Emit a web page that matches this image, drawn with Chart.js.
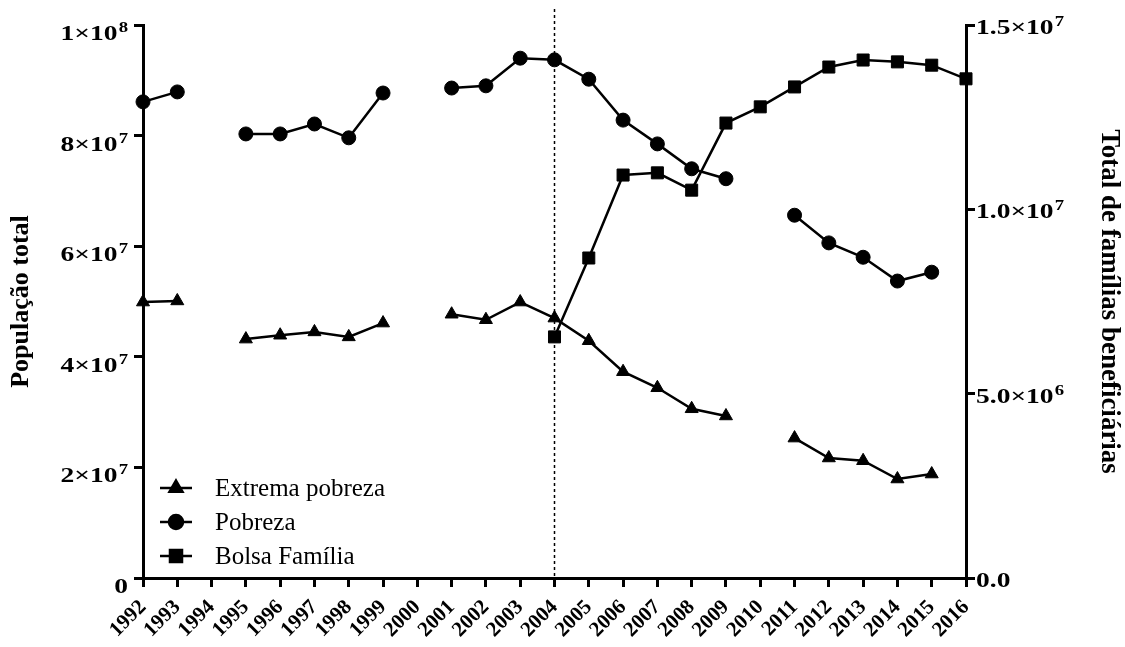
<!DOCTYPE html>
<html>
<head>
<meta charset="utf-8">
<script src="https://cdn.jsdelivr.net/npm/chart.js@4"></script>
<style>
  html, body { margin: 0; padding: 0; background: #fff; }
  #wrap { width: 1125px; height: 647px; }
</style>
</head>
<body>
<div id="wrap"><canvas id="chart" width="1125" height="647"></canvas></div>
<script>
const years = ['1992', '1993', '1994', '1995', '1996', '1997', '1998', '1999', '2000', '2001', '2002', '2003',
    '2004', '2005', '2006', '2007', '2008', '2009', '2010', '2011', '2012', '2013', '2014', '2015', '2016'];

const extremaPobreza = [4.99e7, 5.01e7, null, 4.32e7, 4.39e7, 4.45e7, 4.36e7, 4.61e7, null, 4.77e7, 4.67e7, 4.99e7,
    4.70e7, 4.29e7, 3.73e7, 3.44e7, 3.06e7, 2.93e7, null, 2.53e7, 2.17e7, 2.12e7, 1.79e7, 1.88e7, null];

const pobreza = [8.61e7, 8.79e7, null, 8.03e7, 8.03e7, 8.21e7, 7.96e7, 8.77e7, null, 8.86e7, 8.90e7, 9.40e7,
    9.37e7, 9.02e7, 8.28e7, 7.85e7, 7.40e7, 7.22e7, null, 6.56e7, 6.06e7, 5.80e7, 5.37e7, 5.53e7, null];

const bolsaFamilia = [null, null, null, null, null, null, null, null, null, null, null, null,
    6.54e6, 8.68e6, 1.093e7, 1.099e7, 1.052e7, 1.234e7, 1.278e7, 1.332e7, 1.386e7, 1.405e7, 1.400e7, 1.391e7, 1.354e7];

const leftTickLabels = ['0', '2×10⁷', '4×10⁷', '6×10⁷', '8×10⁷', '1×10⁸'];
const rightTickLabels = ['0.0', '5.0×10⁶', '1.0×10⁷', '1.5×10⁷'];
const markYear = '2004';

const serif = '"Liberation Serif", "DejaVu Serif", serif';
const SUP = '⁰¹²³⁴⁵⁶⁷⁸⁹';

// vertical dashed line at the start of Bolsa Familia
const markerLine = {
    id: 'markerLine',
    beforeDatasetsDraw(chart) {
        const { ctx, chartArea, scales } = chart;
        const x = scales.x.getPixelForValue(years.indexOf(markYear));
        ctx.save();
        ctx.strokeStyle = '#000';
        ctx.lineWidth = 1.5;
        ctx.setLineDash([3, 3]);
        ctx.beginPath();
        ctx.moveTo(x, chartArea.top - 16);
        ctx.lineTo(x, chartArea.bottom);
        ctx.stroke();
        ctx.restore();
    }
};

// draw "a×10^b" tick labels with a real-size exponent
function drawSci(ctx, text, x, y, alignRight) {
    const m = text.match(/^(.*?)([⁰¹²³⁴⁵⁶⁷⁸⁹]*)$/);
    const base = m[1];
    const exp = m[2].split('').map(c => SUP.indexOf(c)).join('');
    const sx = 1.25;
    ctx.font = 'bold 22px ' + serif;
    const wb = ctx.measureText(base).width;
    ctx.font = 'bold 15px ' + serif;
    const we = exp ? ctx.measureText(exp).width + 1 : 0;
    const total = (wb + we) * sx;
    ctx.save();
    ctx.translate(alignRight ? x - total : x, y);
    ctx.scale(sx, 1);
    ctx.font = 'bold 22px ' + serif;
    ctx.fillText(base, 0, 0);
    if (exp) {
        ctx.font = 'bold 15px ' + serif;
        ctx.fillText(exp, wb + 1, -8);
    }
    ctx.restore();
}

const sciTicks = {
    id: 'sciTicks',
    afterDraw(chart) {
        const { ctx, scales } = chart;
        ctx.save();
        ctx.fillStyle = '#000';
        ctx.textBaseline = 'alphabetic';
        ctx.textAlign = 'left';
        scales.y.ticks.forEach((t, i) => {
            drawSci(ctx, leftTickLabels[i], scales.y.right - 15, scales.y.getPixelForValue(t.value) + 15, true);
        });
        scales.y1.ticks.forEach((t, i) => {
            drawSci(ctx, rightTickLabels[i], scales.y1.left + 10, scales.y1.getPixelForValue(t.value) + 9, false);
        });
        ctx.restore();
    }
};

// legend inside the plot, bottom left
const innerLegend = {
    id: 'innerLegend',
    afterDatasetsDraw(chart) {
        const { ctx } = chart;
        const x0 = 160, rowY = [488, 522, 556];
        ctx.save();
        chart.data.datasets.forEach((ds, i) => {
            const y = rowY[i];
            ctx.strokeStyle = '#000';
            ctx.lineWidth = 2.5;
            ctx.beginPath();
            ctx.moveTo(x0, y);
            ctx.lineTo(x0 + 32, y);
            ctx.stroke();
            Chart.helpers.drawPoint(ctx, {
                pointStyle: ds.pointStyle, radius: ds.pointRadius, borderWidth: 1
            }, x0 + 16, y);
            ctx.fillStyle = '#000';
            ctx.font = '25px ' + serif;
            ctx.textBaseline = 'middle';
            ctx.textAlign = 'left';
            ctx.fillText(ds.label, x0 + 55, y + 1);
        });
        ctx.restore();
    }
};

const tickGrid = {
    drawOnChartArea: false,
    drawTicks: true,
    tickLength: 9,
    tickWidth: 3,
    tickColor: '#000',
    color: '#000',
    lineWidth: 3
};

new Chart(document.getElementById('chart'), {
    type: 'line',
    data: {
        labels: years,
        datasets: [{
            label: 'Extrema pobreza',
            data: extremaPobreza,
            yAxisID: 'y',
            pointStyle: 'triangle',
            pointRadius: 7.5
        }, {
            label: 'Pobreza',
            data: pobreza,
            yAxisID: 'y',
            pointStyle: 'circle',
            pointRadius: 7
        }, {
            label: 'Bolsa Família',
            data: bolsaFamilia,
            yAxisID: 'y1',
            pointStyle: 'rect',
            pointRadius: 8.5
        }].map(d => Object.assign(d, {
            borderColor: '#000',
            backgroundColor: '#000',
            pointBackgroundColor: '#000',
            pointBorderColor: '#000',
            borderWidth: 2.5,
            pointBorderWidth: 1,
            spanGaps: false,
            tension: 0,
            clip: false
        }))
    },
    options: {
        responsive: false,
        animation: false,
        layout: { padding: { top: 25, left: 0, right: 0, bottom: 0 } },
        plugins: {
            legend: { display: false },
            tooltip: { enabled: false }
        },
        scales: {
            x: {
                offset: false,
                grid: tickGrid,
                border: { display: true, color: '#000', width: 3 },
                ticks: {
                    color: '#000',
                    font: { family: serif, size: 21, weight: 'bold' },
                    minRotation: 45,
                    maxRotation: 45,
                    autoSkip: false,
                    padding: 8
                },
                afterFit(scale) { scale.height = 69; }
            },
            y: {
                position: 'left',
                min: 0,
                max: 1e8,
                grid: tickGrid,
                border: { display: true, color: '#000', width: 3 },
                ticks: {
                    stepSize: 2e7,
                    color: 'rgba(0,0,0,0)',
                    padding: 2,
                    font: { family: serif, size: 18, weight: 'bold' },
                    callback: (v, i) => leftTickLabels[i]
                },
                title: {
                    display: true,
                    text: 'População total',
                    color: '#000',
                    font: { family: serif, size: 26, weight: 'bold' },
                    padding: { top: 6, bottom: 0 }
                },
                afterFit(scale) { scale.width = 143; }
            },
            y1: {
                position: 'right',
                min: 0,
                max: 1.5e7,
                grid: tickGrid,
                border: { display: true, color: '#000', width: 3 },
                ticks: {
                    stepSize: 5e6,
                    color: 'rgba(0,0,0,0)',
                    padding: 2,
                    font: { family: serif, size: 18, weight: 'bold' },
                    callback: (v, i) => rightTickLabels[i]
                },
                title: {
                    display: true,
                    text: 'Total de famílias beneficiárias',
                    color: '#000',
                    font: { family: serif, size: 27, weight: 'bold' },
                    padding: { top: 0, bottom: 0 }
                },
                afterFit(scale) { scale.width = 159; }
            }
        }
    },
    plugins: [markerLine, innerLegend, sciTicks]
});
</script>
</body>
</html>
